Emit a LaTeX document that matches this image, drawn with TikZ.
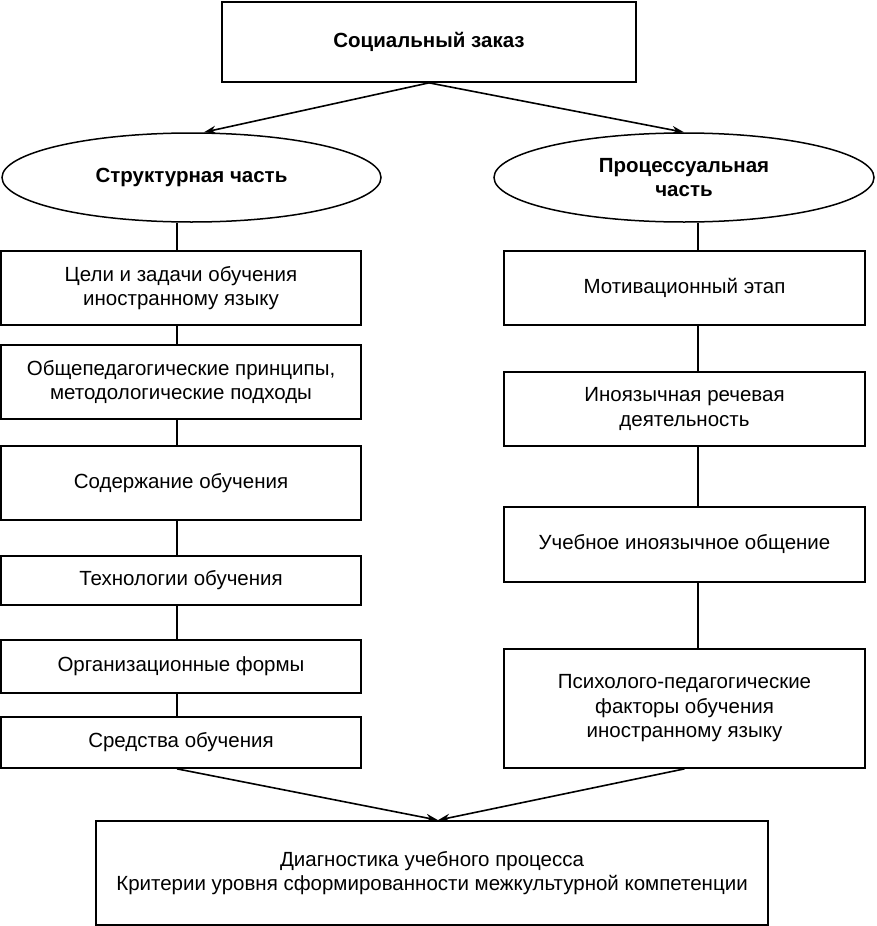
\documentclass[tikz,border=0pt]{standalone}
\usepackage{fontspec}
\setmainfont{Liberation Sans}
\usetikzlibrary{shapes.geometric,arrows.meta}
\begin{document}
\begin{tikzpicture}[x=1pt,y=-1pt,
  every node/.style={font=\fontsize{20.5}{24.5}\selectfont, align=center, inner sep=0pt},
  box/.style={draw, line width=1.7pt, rectangle},
  oval/.style={draw, line width=1.5pt, ellipse, font=\fontsize{20.5}{24.5}\selectfont\bfseries},
  link/.style={line width=1.2pt},
  arr/.style={line width=1.6pt, -{Stealth[length=12pt,width=8pt]}}
]
\useasboundingbox (0,0) rectangle (876,926);
\node[box, minimum width=414pt, minimum height=80pt, font=\fontsize{20.5}{24.5}\selectfont\bfseries] (top) at (429,42) {Социальный заказ};
\node[oval, minimum width=379pt, minimum height=89pt] (le) at (191.5,177.5) {Структурная часть};
\node[oval, minimum width=380pt, minimum height=89pt] (re) at (684,177.5) {Процессуальная\\часть};

\node[box, minimum width=360pt, minimum height=74pt] (b1) at (181,288) {Цели и задачи обучения\\иностранному языку};
\node[box, minimum width=360pt, minimum height=74pt] (b2) at (181,382) {Общепедагогические принципы,\\методологические подходы};
\node[box, minimum width=360pt, minimum height=74pt] (b3) at (181,483) {Содержание обучения};
\node[box, minimum width=360pt, minimum height=49pt] (b4) at (181,580.5) {Технологии обучения};
\node[box, minimum width=360pt, minimum height=53pt] (b5) at (181,666.5) {Организационные формы};
\node[box, minimum width=360pt, minimum height=51pt] (b6) at (181,742.5) {Средства обучения};

\node[box, minimum width=361pt, minimum height=74pt] (r1) at (684.5,288) {Мотивационный этап};
\node[box, minimum width=361pt, minimum height=74pt] (r2) at (684.5,409) {Иноязычная речевая\\деятельность};
\node[box, minimum width=361pt, minimum height=75pt] (r3) at (684.5,544.5) {Учебное иноязычное общение};
\node[box, minimum width=361pt, minimum height=119pt] (r4) at (684.5,708.5) {Психолого-педагогические\\факторы обучения\\иностранному языку};

\node[box, minimum width=672pt, minimum height=104pt] (bot) at (432,873) {Диагностика учебного процесса\\Критерии уровня сформированности межкультурной компетенции};

\coordinate (lc) at (177,0);
\coordinate (rc) at (698,0);
\coordinate (lt) at (204,0);
\coordinate (rt) at (684,0);
\coordinate (bt) at (438,0);

\draw[arr] (top.south) -- (le.north -| lt);
\draw[arr] (top.south) -- (re.north -| rt);

\draw[link] (le.south -| lc) -- (b1.north -| lc);
\draw[link] (b1.south -| lc) -- (b2.north -| lc);
\draw[link] (b2.south -| lc) -- (b3.north -| lc);
\draw[link] (b3.south -| lc) -- (b4.north -| lc);
\draw[link] (b4.south -| lc) -- (b5.north -| lc);
\draw[link] (b5.south -| lc) -- (b6.north -| lc);

\draw[link] (re.south -| rc) -- (r1.north -| rc);
\draw[link] (r1.south -| rc) -- (r2.north -| rc);
\draw[link] (r2.south -| rc) -- (r3.north -| rc);
\draw[link] (r3.south -| rc) -- (r4.north -| rc);

\draw[arr] (b6.south -| lc) -- (bot.north -| bt);
\draw[arr] (r4.south) -- (bot.north -| bt);
\end{tikzpicture}
\end{document}
